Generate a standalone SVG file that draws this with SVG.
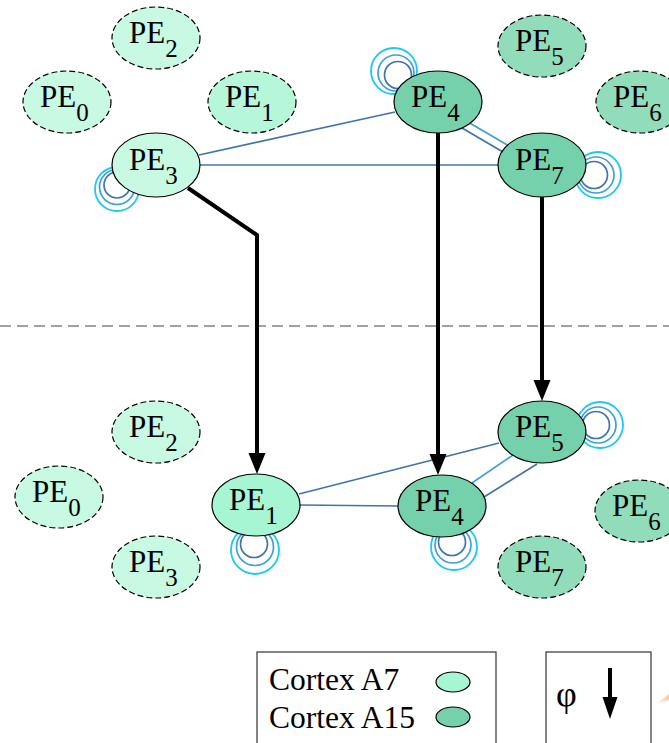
<svg xmlns="http://www.w3.org/2000/svg" width="669" height="743" viewBox="0 0 669 743">
<defs>
<style>
.lbl{font-family:"Liberation Serif","Times New Roman",serif;font-size:31px;fill:#000}
.sub{font-size:25px}
.n{stroke:#000;stroke-width:1.2}
.d{stroke-dasharray:6 3}
.a7l{fill:#c7f9e3}
.a7m{fill:#b6f6d9}
.a7s{fill:#a6f5d3}
.a15s{fill:#75d1ab}
.a15d{fill:#90dcbb}
.e1{stroke:#3f74ab;stroke-width:1.7;fill:none}
.e2{stroke:#3f9fd6;stroke-width:1.7;fill:none}
.e3{stroke:#1ec8f0;stroke-width:1.8;fill:none}
.mig{stroke:#000;stroke-width:4;fill:none}
.head{fill:#000}
.leg{font-family:"Liberation Serif","Times New Roman",serif;font-size:31.5px;fill:#000}
</style>
<linearGradient id="og" x1="0" y1="0" x2="1" y2="0">
<stop offset="0" stop-color="#f7b27a" stop-opacity="0"/>
<stop offset="1" stop-color="#f7b27a" stop-opacity="0.7"/>
</linearGradient>
</defs>

<!-- separator -->
<line x1="0" y1="326" x2="669" y2="326" stroke="#444" stroke-width="1.2" stroke-dasharray="11 6"/>

<g id="connectors">
<!-- top edges -->
<line class="e1" x1="199" y1="155" x2="395" y2="112"/>
<line class="e1" x1="200" y1="165" x2="498" y2="165"/>
<line class="e2" x1="468" y1="122" x2="509" y2="146"/>
<line class="e1" x1="462" y1="128" x2="503" y2="152"/>
<!-- top loops -->
<circle class="e3" cx="117" cy="189" r="22"/>
<circle class="e2" cx="117" cy="187" r="17.5"/>
<circle class="e1" cx="117" cy="185" r="13"/>
<circle class="e3" cx="394" cy="71" r="23"/>
<circle class="e2" cx="396" cy="73" r="18"/>
<circle class="e1" cx="398" cy="75" r="13.5"/>
<circle class="e3" cx="598" cy="175" r="23"/>
<circle class="e2" cx="596" cy="175" r="18"/>
<circle class="e1" cx="594" cy="175" r="13.5"/>
<!-- bottom edges -->
<line class="e1" x1="299" y1="494" x2="499" y2="443"/>
<line class="e1" x1="300" y1="505" x2="398" y2="506"/>
<line class="e2" x1="472" y1="483" x2="513" y2="455"/>
<line class="e1" x1="484" y1="497" x2="537" y2="464"/>
<!-- bottom loops -->
<circle class="e3" cx="255" cy="550" r="24"/>
<circle class="e2" cx="255" cy="547" r="18.5"/>
<circle class="e1" cx="254" cy="544" r="13.5"/>
<circle class="e3" cx="454" cy="547" r="23"/>
<circle class="e2" cx="453" cy="545" r="18"/>
<circle class="e1" cx="452" cy="542" r="13.5"/>
<circle class="e3" cx="600" cy="425" r="23"/>
<circle class="e2" cx="598" cy="425" r="18"/>
<circle class="e1" cx="596" cy="425" r="13.5"/>
</g>

<!-- top nodes -->
<g id="t_pe2"><ellipse class="n d a7l" cx="156" cy="38" rx="44" ry="31"/><text class="lbl" x="129" y="43">PE<tspan class="sub" dy="14">2</tspan></text></g>
<g id="t_pe0"><ellipse class="n d a7l" cx="67" cy="102" rx="44" ry="31"/><text class="lbl" x="40" y="107">PE<tspan class="sub" dy="14">0</tspan></text></g>
<g id="t_pe1"><ellipse class="n d a7m" cx="252" cy="102" rx="44" ry="31"/><text class="lbl" x="225" y="107">PE<tspan class="sub" dy="14">1</tspan></text></g>
<g id="t_pe3"><ellipse class="n a7l" cx="156" cy="165" rx="44" ry="32"/><text class="lbl" x="129" y="170">PE<tspan class="sub" dy="14">3</tspan></text></g>
<g id="t_pe4"><ellipse class="n a15s" cx="438" cy="102" rx="44" ry="31"/><text class="lbl" x="411" y="107">PE<tspan class="sub" dy="14">4</tspan></text></g>
<g id="t_pe5"><ellipse class="n d a15d" cx="542" cy="46" rx="44" ry="31"/><text class="lbl" x="515" y="51">PE<tspan class="sub" dy="14">5</tspan></text></g>
<g id="t_pe6"><ellipse class="n d a15d" cx="640" cy="102" rx="44" ry="31"/><text class="lbl" x="613" y="107">PE<tspan class="sub" dy="14">6</tspan></text></g>
<g id="t_pe7"><ellipse class="n a15s" cx="542" cy="165" rx="44" ry="32"/><text class="lbl" x="515" y="170">PE<tspan class="sub" dy="14">7</tspan></text></g>

<!-- bottom nodes -->
<g id="b_pe2"><ellipse class="n d a7l" cx="156" cy="432" rx="44" ry="31"/><text class="lbl" x="129" y="437">PE<tspan class="sub" dy="14">2</tspan></text></g>
<g id="b_pe0"><ellipse class="n d a7l" cx="59" cy="497" rx="44" ry="31"/><text class="lbl" x="32" y="502">PE<tspan class="sub" dy="14">0</tspan></text></g>
<g id="b_pe3"><ellipse class="n d a7l" cx="156" cy="567" rx="44" ry="31"/><text class="lbl" x="129" y="572">PE<tspan class="sub" dy="14">3</tspan></text></g>
<g id="b_pe1"><ellipse class="n a7s" cx="256" cy="505" rx="44" ry="31"/><text class="lbl" x="229" y="510">PE<tspan class="sub" dy="14">1</tspan></text></g>
<g id="b_pe5"><ellipse class="n a15s" cx="542" cy="432" rx="44" ry="31"/><text class="lbl" x="515" y="437">PE<tspan class="sub" dy="14">5</tspan></text></g>
<g id="b_pe4"><ellipse class="n a15s" cx="442" cy="506" rx="44" ry="31"/><text class="lbl" x="415" y="511">PE<tspan class="sub" dy="14">4</tspan></text></g>
<g id="b_pe6"><ellipse class="n d a15d" cx="639" cy="511" rx="44" ry="31"/><text class="lbl" x="612" y="516">PE<tspan class="sub" dy="14">6</tspan></text></g>
<g id="b_pe7"><ellipse class="n d a15d" cx="542" cy="567" rx="44" ry="31"/><text class="lbl" x="515" y="572">PE<tspan class="sub" dy="14">7</tspan></text></g>

<g id="migrations">
<polyline class="mig" points="188,188 257,235 257,456"/>
<path class="head" d="M248.5,453 L265.5,453 L257,474 Z"/>
<line class="mig" x1="438" y1="133" x2="438" y2="457"/>
<path class="head" d="M429.5,454 L446.5,454 L438,475 Z"/>
<line class="mig" x1="542" y1="197" x2="542" y2="383"/>
<path class="head" d="M533.5,380 L550.5,380 L542,401 Z"/>
</g>

<!-- legend -->
<g id="legend">
<rect x="257" y="652" width="239" height="110" fill="#fff" stroke="#333" stroke-width="1.2"/>
<text class="leg" x="269" y="690">Cortex A7</text>
<text class="leg" x="269" y="728">Cortex A15</text>
<ellipse class="n a7s" cx="453" cy="682" rx="17" ry="10"/>
<ellipse class="n a15s" cx="453" cy="717" rx="17" ry="10"/>
</g>
<g id="phi_legend">
<rect x="546" y="652" width="105" height="110" fill="#fff" stroke="#333" stroke-width="1.2"/>
<text class="leg" x="556" y="706" style="font-size:36px">φ</text>
<line x1="610" y1="668" x2="610" y2="700" stroke="#000" stroke-width="4"/>
<path d="M602.5,697 L617.5,697 L610,719 Z" fill="#000"/>
</g>
<path d="M655,704 L669,694 L669,700 Z" fill="url(#og)"/>
</svg>
